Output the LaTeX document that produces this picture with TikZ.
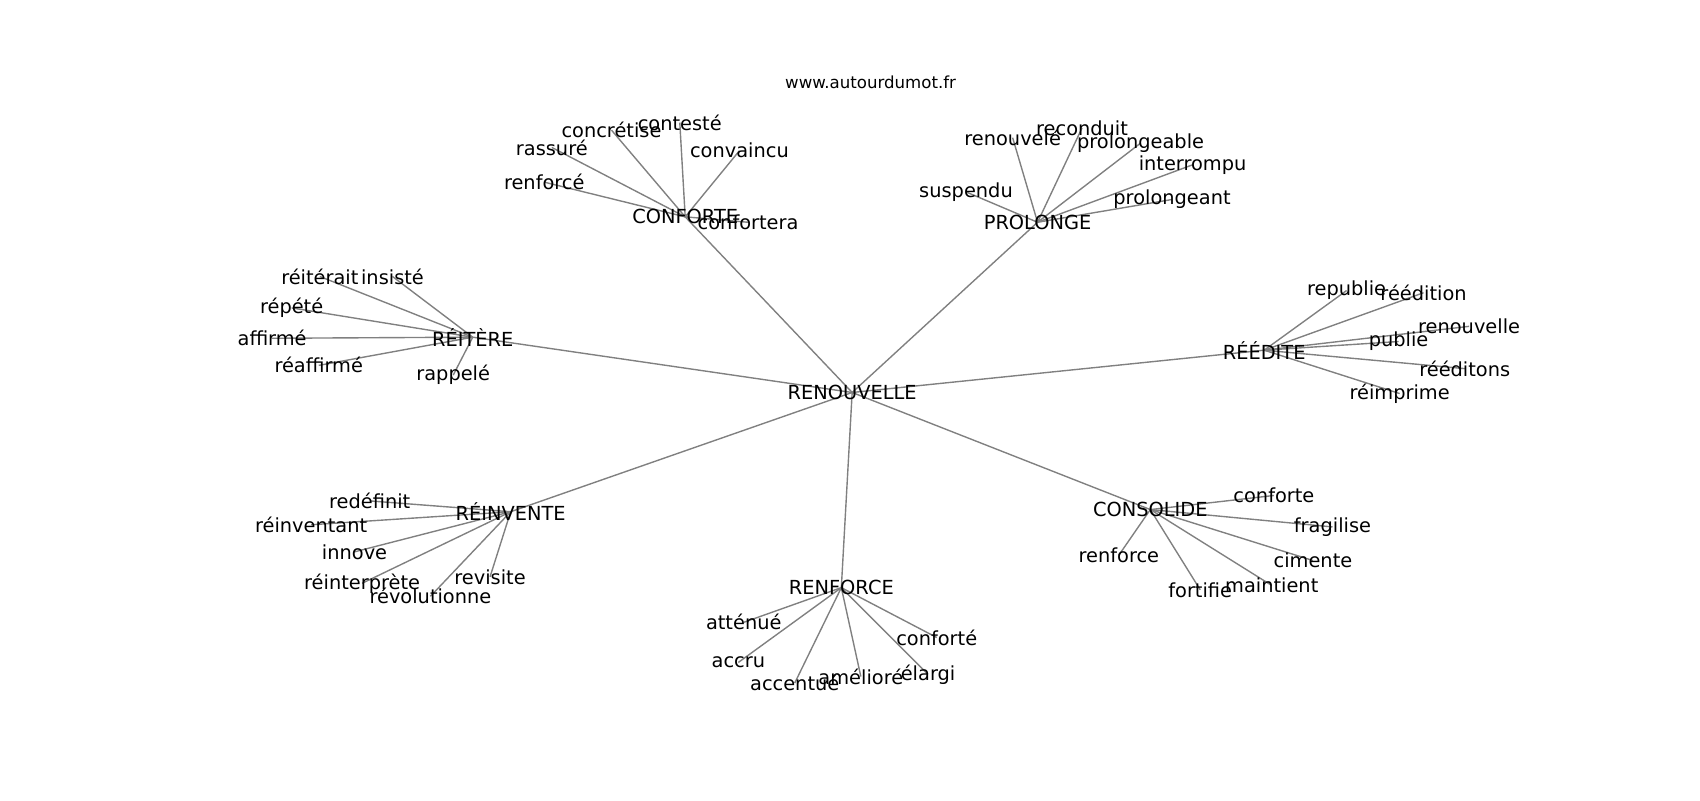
\documentclass[tikz,border=0pt]{standalone}
\usepackage{fontspec}
\setmainfont{DejaVu Sans}
\usetikzlibrary{backgrounds}

\begin{document}
\begin{tikzpicture}[x=0.7835pt,y=-0.7835pt]
\tikzstyle{every node}+=[inner sep=0pt]
\tikzstyle{word}=[font=\fontsize{14}{16}\selectfont]
\tikzstyle{edge}=[draw=black!50,line width=1bp]
\useasboundingbox (0,0) rectangle (1568,738);
\node [font=\fontsize{12}{14}\selectfont] (site) at (803,76) {www.autourdumot.fr};
% centre and hubs
\node [word] (renouvelle) at (786,362) {RENOUVELLE};
\node [word] (conforte) at (632,200) {CONFORTE};
\node [word] (prolonge) at (957,205) {PROLONGE};
\node [word] (reitere) at (436,311) {RÉITÈRE};
\node [word] (reedite) at (1166,323) {RÉÉDITE};
\node [word] (reinvente) at (471,472) {RÉINVENTE};
\node [word] (renforce) at (776,542) {RENFORCE};
\node [word] (consolide) at (1061,470) {CONSOLIDE};
% CONFORTE
\node [word] (renforceA) at (502,168) {renforcé};
\node [word] (rassure) at (509,136) {rassuré};
\node [word] (concretise) at (564,120) {concrétise};
\node [word] (conteste) at (627,113) {contesté};
\node [word] (convaincu) at (682,139) {convaincu};
\node [word] (confortera) at (690,205) {confortera};
% PROLONGE
\node [word] (suspendu) at (891,177) {suspendu};
\node [word] (renouvele) at (934,127) {renouvelé};
\node [word] (reconduit) at (998,118) {reconduit};
\node [word] (prolongeable) at (1052,132) {prolongeable};
\node [word] (interrompu) at (1100,152) {interrompu};
\node [word] (prolongeant) at (1081,184) {prolongeant};
% RÉITÈRE
\node [word] (reiterait) at (295,255) {réitérait};
\node [word] (insiste) at (362,255) {insisté};
\node [word] (repete) at (269,284) {répété};
\node [word] (affirme) at (251,312) {affirmé};
\node [word] (reaffirme) at (294,337) {réaffirmé};
\node [word] (rappele) at (418,346) {rappelé};
% RÉÉDITE
\node [word] (republie) at (1242,268) {republie};
\node [word] (reedition) at (1313,270) {réédition};
\node [word] (renouvelleB) at (1355,301) {renouvelle};
\node [word] (publie) at (1290,315) {publie};
\node [word] (reeditons) at (1351,340) {rééditons};
\node [word] (reimprime) at (1291,363) {réimprime};
% RÉINVENTE
\node [word] (redefinit) at (341,462) {redéfinit};
\node [word] (reinventant) at (287,484) {réinventant};
\node [word] (innove) at (327,509) {innove};
\node [word] (reinterprete) at (334,538) {réinterprète};
\node [word] (revolutionne) at (397,550) {révolutionne};
\node [word] (revisite) at (452,532) {revisite};
% RENFORCE
\node [word] (attenue) at (686,574) {atténué};
\node [word] (accru) at (681,611) {accru};
\node [word] (accentue) at (733,630) {accentué};
\node [word] (ameliore) at (794,624) {amélioré};
\node [word] (elargi) at (856,622) {élargi};
\node [word] (conforteB) at (864,588) {conforté};
% CONSOLIDE
\node [word] (conforteC) at (1175,457) {conforte};
\node [word] (fragilise) at (1229,486) {fragilise};
\node [word] (cimente) at (1211,517) {cimente};
\node [word] (maintient) at (1173,540) {maintient};
\node [word] (fortifie) at (1107,544) {fortifie};
\node [word] (renforceC) at (1032,512) {renforce};
\begin{scope}[on background layer]
\draw [edge] (renouvelle.center) -- (conforte.center);
\draw [edge] (renouvelle.center) -- (prolonge.center);
\draw [edge] (renouvelle.center) -- (reitere.center);
\draw [edge] (renouvelle.center) -- (reedite.center);
\draw [edge] (renouvelle.center) -- (reinvente.center);
\draw [edge] (renouvelle.center) -- (renforce.center);
\draw [edge] (renouvelle.center) -- (consolide.center);
\draw [edge] (conforte.center) -- (renforceA.center);
\draw [edge] (conforte.center) -- (rassure.center);
\draw [edge] (conforte.center) -- (concretise.center);
\draw [edge] (conforte.center) -- (conteste.center);
\draw [edge] (conforte.center) -- (convaincu.center);
\draw [edge] (conforte.center) -- (confortera.center);
\draw [edge] (prolonge.center) -- (suspendu.center);
\draw [edge] (prolonge.center) -- (renouvele.center);
\draw [edge] (prolonge.center) -- (reconduit.center);
\draw [edge] (prolonge.center) -- (prolongeable.center);
\draw [edge] (prolonge.center) -- (interrompu.center);
\draw [edge] (prolonge.center) -- (prolongeant.center);
\draw [edge] (reitere.center) -- (reiterait.center);
\draw [edge] (reitere.center) -- (insiste.center);
\draw [edge] (reitere.center) -- (repete.center);
\draw [edge] (reitere.center) -- (affirme.center);
\draw [edge] (reitere.center) -- (reaffirme.center);
\draw [edge] (reitere.center) -- (rappele.center);
\draw [edge] (reedite.center) -- (republie.center);
\draw [edge] (reedite.center) -- (reedition.center);
\draw [edge] (reedite.center) -- (renouvelleB.center);
\draw [edge] (reedite.center) -- (publie.center);
\draw [edge] (reedite.center) -- (reeditons.center);
\draw [edge] (reedite.center) -- (reimprime.center);
\draw [edge] (reinvente.center) -- (redefinit.center);
\draw [edge] (reinvente.center) -- (reinventant.center);
\draw [edge] (reinvente.center) -- (innove.center);
\draw [edge] (reinvente.center) -- (reinterprete.center);
\draw [edge] (reinvente.center) -- (revolutionne.center);
\draw [edge] (reinvente.center) -- (revisite.center);
\draw [edge] (renforce.center) -- (attenue.center);
\draw [edge] (renforce.center) -- (accru.center);
\draw [edge] (renforce.center) -- (accentue.center);
\draw [edge] (renforce.center) -- (ameliore.center);
\draw [edge] (renforce.center) -- (elargi.center);
\draw [edge] (renforce.center) -- (conforteB.center);
\draw [edge] (consolide.center) -- (conforteC.center);
\draw [edge] (consolide.center) -- (fragilise.center);
\draw [edge] (consolide.center) -- (cimente.center);
\draw [edge] (consolide.center) -- (maintient.center);
\draw [edge] (consolide.center) -- (fortifie.center);
\draw [edge] (consolide.center) -- (renforceC.center);
\end{scope}
\end{tikzpicture}
\end{document}
